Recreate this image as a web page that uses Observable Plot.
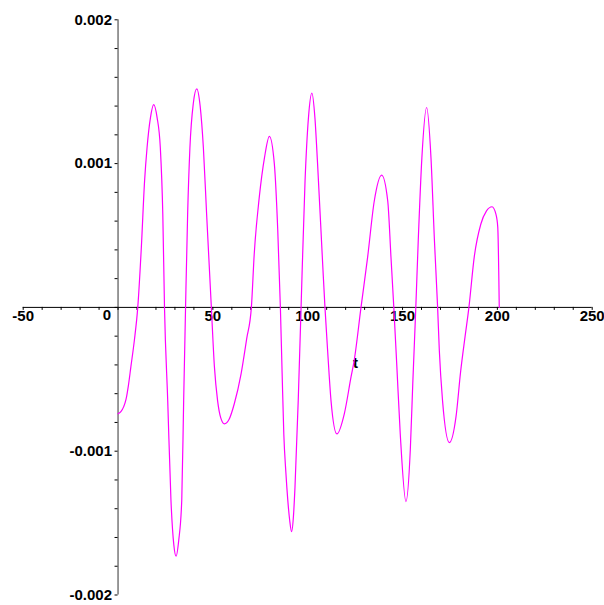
<!DOCTYPE html>
<html>
<head>
<meta charset="utf-8">
<script src="https://cdn.jsdelivr.net/npm/d3@7"></script>
<script src="https://cdn.jsdelivr.net/npm/@observablehq/plot@0.6"></script>
<style>
  html, body { margin: 0; padding: 0; background: #fff; }
  #chart svg { display: block; }
</style>
</head>
<body>
<div id="chart"></div>
<script>
// ---- data ----
const tValues = [0, 1.5, 3, 4.2, 5.5, 6.8, 8.6, 10.4, 12.3, 14, 15.3, 17.1, 18.8, 20.6, 22.3, 23.6, 24.5, 26.2, 27.9, 29.4, 30.6, 32, 33.6, 34.6, 35.6, 36.7, 37.9, 39.7, 41.5, 43.3, 45, 46.7, 49.2, 50.8, 52.5, 54.2, 56.1, 58.5, 61.3, 64.9, 67.8, 70.3, 71.8, 74.5, 77.2, 79.8, 82.4, 84.2, 85.6, 86.5, 87.4, 88.5, 89.5, 90.5, 91.5, 92.5, 93.3, 95, 96.5, 98.6, 100.4, 102.2, 103.8, 105.2, 107.9, 109.1, 110.5, 112.3, 115.4, 119.3, 122.9, 124.5, 128.1, 131.6, 135.1, 139, 142.2, 143.9, 145.4, 147, 148.8, 151.8, 154.1, 155.4, 157, 158.3, 160.2, 162.7, 165, 166.8, 168.5, 169.4, 171.1, 174.7, 178.2, 180.6, 183, 185, 187.8, 191.3, 194.2, 197.2, 199.2, 200.2, 201];
const yValues = [-0.74e-3, -0.725e-3, -0.69e-3, -0.64e-3, -0.54e-3, -0.41e-3, -0.23e-3, 0, 0.42e-3, 0.88e-3, 1.11e-3, 1.32e-3, 1.41e-3, 1.32e-3, 1.11e-3, 0.65e-3, 0, -0.65e-3, -1.34e-3, -1.65e-3, -1.73e-3, -1.62e-3, -1.34e-3, -0.65e-3, 0, 0.65e-3, 1.11e-3, 1.42e-3, 1.52e-3, 1.40e-3, 1.11e-3, 0.65e-3, 0, -0.41e-3, -0.65e-3, -0.77e-3, -0.81e-3, -0.78e-3, -0.67e-3, -0.46e-3, -0.22e-3, 0, 0.37e-3, 0.77e-3, 1.04e-3, 1.19e-3, 1.0e-3, 0.54e-3, 0, -0.45e-3, -0.88e-3, -1.15e-3, -1.34e-3, -1.48e-3, -1.56e-3, -1.45e-3, -1.25e-3, -0.65e-3, 0, 0.88e-3, 1.32e-3, 1.49e-3, 1.32e-3, 1.0e-3, 0.30e-3, 0, -0.3e-3, -0.65e-3, -0.88e-3, -0.74e-3, -0.48e-3, -0.37e-3, 0, 0.35e-3, 0.74e-3, 0.92e-3, 0.74e-3, 0.35e-3, 0, -0.41e-3, -0.88e-3, -1.35e-3, -0.99e-3, -0.53e-3, 0, 0.47e-3, 1.04e-3, 1.39e-3, 1.04e-3, 0.47e-3, 0, -0.30e-3, -0.65e-3, -0.94e-3, -0.76e-3, -0.45e-3, -0.2e-3, 0, 0.35e-3, 0.58e-3, 0.67e-3, 0.70e-3, 0.65e-3, 0.56e-3, 0];

const xDomain = [-50, 250];
const yDomain = [-0.002, 0.002];
const xMajorTicks = [-50, 0, 50, 100, 150, 200, 250];
const xTickLabels = ["-50", "0", "50", "100", "150", "200", "250"];
const xMinorTicks = d3.range(-50, 251, 10);
const yMajorTicks = [-0.002, -0.001, 0.001, 0.002];
const yTickLabels = ["-0.002", "-0.001", "0.001", "0.002"];
const yMinorTicks = d3.range(-10, 11).map(i => i * 0.0002);
const axisLabel = "t";
const axisLabelPos = {t: 125.2, v: -0.000387};

// ---- layout ----
const W = 604, H = 605;
const mLeft = 23, mRight = 12, mTop = 19, mBottom = 10;
const xRange = [22.7, 591.7];
const yRange = [594.5, 19.3];
const xs = d3.scaleLinear(xDomain, xRange);
const ys = d3.scaleLinear(yDomain, yRange);
const axisDy = ys(0) - (H - mBottom);
const axisDx = xs(0) - mLeft;

const curveData = tValues.map((t, i) => ({t, v: yValues[i]}));
const font = "'Liberation Sans', Arial, sans-serif";

const xLabel = d => { const i = xMajorTicks.indexOf(d); return i >= 0 && d !== 0 ? xTickLabels[i] : ""; };
const yLabel = d => { const i = yMajorTicks.findIndex(v => Math.abs(v - d) < 1e-9); return i >= 0 ? yTickLabels[i] : ""; };

const chart = Plot.plot({
  width: W,
  height: H,
  marginLeft: mLeft,
  marginRight: mRight,
  marginTop: mTop,
  marginBottom: mBottom,
  style: {fontFamily: font, fontSize: "15px", fontWeight: "bold", color: "#000", background: "#fff"},
  x: {domain: xDomain, range: xRange, axis: null},
  y: {domain: yDomain, range: yRange, axis: null},
  marks: [
    Plot.ruleY([0], {x1: xDomain[0], x2: xDomain[1], stroke: "#000", strokeWidth: 1}),
    Plot.ruleX([0], {y1: yDomain[0], y2: yDomain[1], stroke: "#333", strokeWidth: 1}),
    Plot.axisX({anchor: "bottom", label: null, ticks: xMinorTicks, tickSize: 3, tickPadding: 0, tickFormat: xLabel, dy: axisDy, stroke: "#000", fill: "#000", fontSize: 15, fontWeight: "bold"}),
    Plot.axisY({anchor: "left", label: null, ticks: yMinorTicks, tickSize: 3, tickPadding: 3, tickFormat: yLabel, dx: axisDx, stroke: "#000", fill: "#000", fontSize: 15, fontWeight: "bold"}),
    Plot.text([xTickLabels[1]], {x: 0, y: 0, text: d => d, dx: -11, dy: 8, fontSize: 15, fontWeight: "bold", fill: "#000"}),
    Plot.text([axisLabel], {x: axisLabelPos.t, y: axisLabelPos.v, text: d => d, fontSize: 15, fontWeight: "bold", fill: "#000"}),
    Plot.line(curveData, {x: "t", y: "v", stroke: "#ff00ff", strokeWidth: 1.2, curve: "monotone-x"})
  ]
});
document.getElementById("chart").appendChild(chart);
</script>
</body>
</html>
